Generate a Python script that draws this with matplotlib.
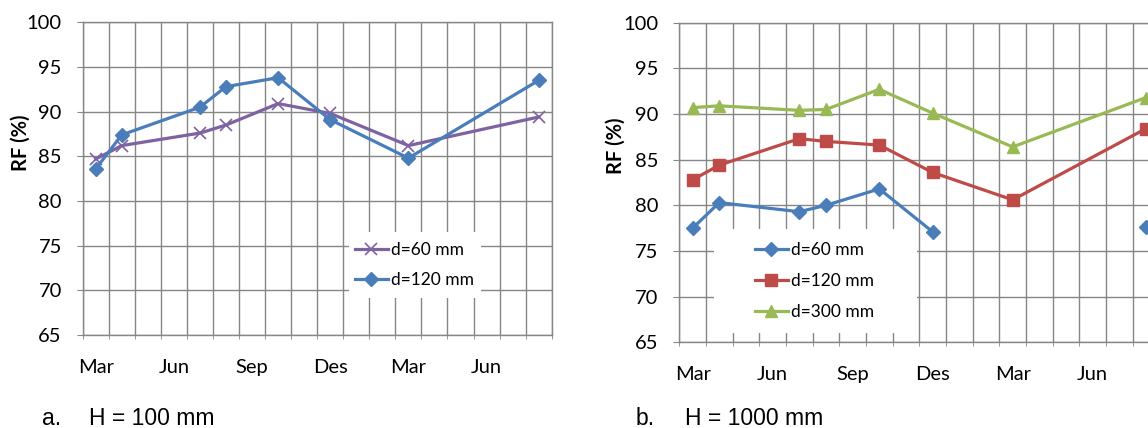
import matplotlib
matplotlib.use("Agg")
import numpy as np
import matplotlib.pyplot as plt
from matplotlib.patches import Rectangle

# months counted from March of the first year (0 = Mar ... 17 = Aug next year)
months = [0, 1, 4, 5, 7, 9, 12, 17]
tick_pos = [0, 3, 6, 9, 12, 15]
tick_labels = ["Mar", "Jun", "Sep", "Des", "Mar", "Jun"]

# panel a: H = 100 mm
a_d60 = [84.7, 86.2, 87.6, 88.5, 90.9, 89.8, 86.2, 89.4]
a_d120 = [83.6, 87.4, 90.5, 92.8, 93.8, 89.1, 84.8, 93.5]

# panel b: H = 1000 mm
b_d60 = [77.5, 80.3, 79.3, 80.0, 81.8, 77.1, np.nan, 77.6]
b_d120 = [82.8, 84.4, 87.3, 87.0, 86.6, 83.6, 80.6, 88.4]
b_d300 = [90.7, 90.9, 90.4, 90.5, 92.7, 90.1, 86.4, 91.8]

BLUE = "#4A7EBB"
PURPLE = "#7E62A1"
RED = "#BE4B48"
GREEN = "#98B954"
GRID = "#868686"

W, H = 1148, 428
plt.rcParams["font.family"] = ["Lato", "DejaVu Sans"]

fig = plt.figure(figsize=(W / 100, H / 100), dpi=100)


def px_box(x0, y0, x1, y1):
    # pixel box (top-left origin) -> figure fraction [l, b, w, h]
    return [x0 / W, 1 - y1 / H, (x1 - x0) / W, (y1 - y0) / H]


def style_axes(ax):
    ax.set_xlim(-0.5, 17.5)
    ax.set_ylim(65, 100)
    ax.set_yticks(range(65, 101, 5))
    ax.set_xticks(tick_pos)
    ax.set_xticklabels(tick_labels)
    ax.set_xticks(np.arange(-0.5, 18, 1), minor=True)
    ax.grid(True, which="minor", axis="x", color=GRID, lw=1)
    ax.grid(True, which="major", axis="y", color=GRID, lw=1)
    ax.tick_params(axis="x", which="major", length=0, pad=17, labelsize=14.5)
    ax.tick_params(axis="x", which="minor", length=3, direction="out", color=GRID)
    ax.tick_params(axis="y", length=4, direction="out", color=GRID, pad=11, labelsize=14.5)
    for s in ax.spines.values():
        s.set_color(GRID)
        s.set_linewidth(1)


# ---- panel a ----
ax1 = fig.add_axes(px_box(82.7, 22.3, 551.7, 335))
style_axes(ax1)
ax1.add_patch(Rectangle((349 / W, 1 - 298 / H), 132 / W, 66 / H, transform=fig.transFigure,
                        facecolor="white", edgecolor="none", zorder=1.8, clip_on=False))
ax1.plot(months, a_d60, color=PURPLE, lw=2.3, marker="x", ms=9, mew=1.2, label="d=60 mm", zorder=3)
ax1.plot(months, a_d120, color=BLUE, lw=2.3, marker="D", ms=7.5, label="d=120 mm", zorder=3)
ax1.legend(loc="center left", bbox_to_anchor=(355 / W, 1 - 265 / H), bbox_transform=fig.transFigure,
           frameon=False, fontsize=12.5, handlelength=1.9, handletextpad=0.15,
           borderpad=0, borderaxespad=0, labelspacing=0.85)
fig.text(20.5 / W, 1 - 143 / H, "RF (%)", rotation=90, fontsize=14.5, fontweight="bold",
         ha="center", va="center")

# ---- panel b ----
ax2 = fig.add_axes(px_box(679.3, 22.7, 1159.3, 342.3))
style_axes(ax2)
ax2.add_patch(Rectangle((714 / W, 1 - 333 / H), 203 / W, 104 / H, transform=fig.transFigure,
                        facecolor="white", edgecolor="none", zorder=1.8, clip_on=False))
ax2.plot(months, b_d60, color=BLUE, lw=2.3, marker="D", ms=7.5, label="d=60 mm", zorder=3)
ax2.plot(months, b_d120, color=RED, lw=2.3, marker="s", ms=8.5, label="d=120 mm", zorder=3)
ax2.plot(months, b_d300, color=GREEN, lw=2.3, marker="^", ms=9, label="d=300 mm", zorder=3)
ax2.legend(loc="center left", bbox_to_anchor=(755 / W, 1 - 281 / H), bbox_transform=fig.transFigure,
           frameon=False, fontsize=12.5, handlelength=1.9, handletextpad=0.15,
           borderpad=0, borderaxespad=0, labelspacing=0.85)
fig.text(616 / W, 1 - 146 / H, "RF (%)", rotation=90, fontsize=14.5, fontweight="bold",
         ha="center", va="center")

# captions
cap_font = dict(fontsize=16.5, family=["Liberation Sans", "DejaVu Sans"], va="baseline")
fig.text(41.8 / W, 1 - 425 / H, "a.", **cap_font)
fig.text(89 / W, 1 - 425 / H, "H = 100 mm", **cap_font)
fig.text(636 / W, 1 - 425 / H, "b.", **cap_font)
fig.text(685 / W, 1 - 425 / H, "H = 1000 mm", **cap_font)

fig.savefig("out.png", dpi=100, facecolor="white")
